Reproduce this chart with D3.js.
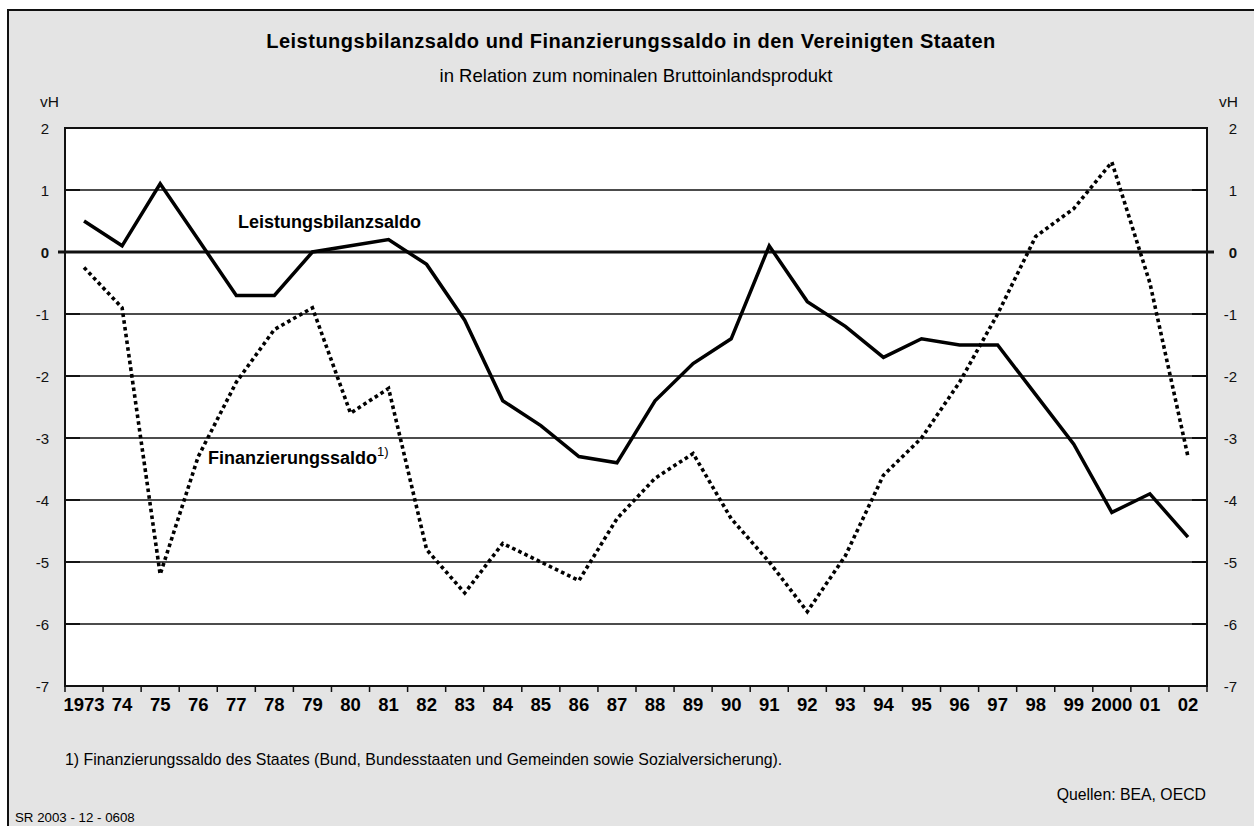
<!DOCTYPE html>
<html>
<head>
<meta charset="utf-8">
<script src="https://cdn.jsdelivr.net/npm/d3@7"></script>
<style>
  body { margin: 0; background: #fff; }
  svg { display: block; font-family: "Liberation Sans", Arial, Helvetica, sans-serif; }
</style>
</head>
<body>
<svg width="1254" height="826"></svg>
<script>
let years = d3.range(1973, 2003);
let yearLabels = ["1973", "74", "75", "76", "77", "78", "79", "80", "81", "82", "83", "84", "85", "86", "87",
  "88", "89", "90", "91", "92", "93", "94", "95", "96", "97", "98", "99", "2000", "01", "02"];
let leistung = [0.5, 0.1, 1.1, 0.2, -0.7, -0.7, 0.0, 0.1, 0.2, -0.2, -1.1, -2.4, -2.8, -3.3, -3.4,
  -2.4, -1.8, -1.4, 0.1, -0.8, -1.2, -1.7, -1.4, -1.5, -1.5, -2.3, -3.1, -4.2, -3.9, -4.6];
let finanz = [-0.25, -0.9, -5.2, -3.3, -2.1, -1.25, -0.9, -2.6, -2.2, -4.8, -5.5, -4.7, -5.0, -5.3, -4.3,
  -3.65, -3.25, -4.3, -5.0, -5.8, -4.9, -3.6, -3.0, -2.1, -1.0, 0.25, 0.7, 1.45, -0.5, -3.3];
let yTicks = d3.range(-7, 3);

let svg = d3.select("svg");
let pL = 65, pR = 1207, pT = 128, pB = 686;

// frame background
svg.append("rect").attr("x", 8).attr("y", 10).attr("width", 1260).attr("height", 830)
  .attr("fill", "#e4e4e4").attr("stroke", "#111").attr("stroke-width", 2);

let x = d3.scalePoint().domain(years).range([pL, pR]).padding(0.5);
let y = d3.scaleLinear().domain([-7, 2]).range([pB, pT]);
let step = x.step();

svg.append("rect").attr("x", pL).attr("y", pT).attr("width", pR - pL).attr("height", pB - pT)
  .attr("fill", "#fff");

// grid lines
svg.append("g").selectAll("line").data(yTicks.filter(d => d > -7 && d < 2 && d !== 0)).join("line")
  .attr("x1", pL).attr("x2", pR).attr("y1", d => y(d)).attr("y2", d => y(d))
  .attr("stroke", "#111").attr("stroke-width", 1.4);
// inner ticks
svg.append("g").selectAll("path").data(yTicks.filter(d => d > -7 && d < 2)).join("path")
  .attr("d", d => `M${pL},${y(d)}h15M${pR},${y(d)}h-15`)
  .attr("stroke", "#111").attr("stroke-width", 2.2);
// zero line
svg.append("line").attr("x1", pL - 7).attr("x2", pR + 7).attr("y1", y(0)).attr("y2", y(0))
  .attr("stroke", "#111").attr("stroke-width", 3);

// plot border
svg.append("rect").attr("x", pL).attr("y", pT).attr("width", pR - pL).attr("height", pB - pT)
  .attr("fill", "none").attr("stroke", "#111").attr("stroke-width", 2);

// x ticks on band edges
let edges = years.map(d => x(d) - step / 2).concat([pR]);
svg.append("g").selectAll("line").data(edges).join("line")
  .attr("x1", d => d).attr("x2", d => d).attr("y1", pB).attr("y2", pB + 6)
  .attr("stroke", "#111").attr("stroke-width", 1.5);

svg.append("g").selectAll("text").data(years).join("text")
  .attr("x", d => x(d)).attr("y", 711).attr("text-anchor", "middle")
  .attr("font-size", 18.5).attr("font-weight", "bold")
  .text((d, i) => yearLabels[i]);

// y labels both sides
let yl = svg.append("g").attr("font-size", 15).attr("fill", "#111");
yl.selectAll("text.l").data(yTicks).join("text").attr("class", "l")
  .attr("x", 49).attr("y", d => y(d) + 5.5).attr("text-anchor", "end")
  .attr("font-weight", d => d === 0 ? "bold" : "normal").text(d => d);
yl.selectAll("text.r").data(yTicks).join("text").attr("class", "r")
  .attr("x", 1237).attr("y", d => y(d) + 5.5).attr("text-anchor", "end")
  .attr("font-weight", d => d === 0 ? "bold" : "normal").text(d => d);
yl.append("text").attr("x", 40).attr("y", 107).attr("font-size", 15.5).text("vH");
yl.append("text").attr("x", 1238).attr("y", 107).attr("font-size", 15.5).attr("text-anchor", "end").text("vH");

// lines
let line = d3.line().x((d, i) => x(years[i])).y(d => y(d));
svg.append("path").datum(finanz).attr("d", line).attr("fill", "none")
  .attr("stroke", "#000").attr("stroke-width", 3.6).attr("stroke-dasharray", "3.6,3.2");
svg.append("path").datum(leistung).attr("d", line).attr("fill", "none")
  .attr("stroke", "#000").attr("stroke-width", 3.5).attr("stroke-linejoin", "miter");

// series labels
svg.append("text").attr("x", 238).attr("y", 228).attr("font-size", 18).attr("font-weight", "bold")
  .text("Leistungsbilanzsaldo");
let fl = svg.append("text").attr("x", 208).attr("y", 464).attr("font-size", 18).attr("font-weight", "bold");
fl.append("tspan").text("Finanzierungssaldo");
fl.append("tspan").attr("font-size", 13).attr("font-weight", "normal").attr("dy", -8).text("1)");

// titles
svg.append("text").attr("x", 631).attr("y", 48).attr("text-anchor", "middle")
  .attr("font-size", 20).attr("letter-spacing", 0.5).attr("font-weight", "bold")
  .text("Leistungsbilanzsaldo und Finanzierungssaldo in den Vereinigten Staaten");
svg.append("text").attr("x", 636).attr("y", 82).attr("text-anchor", "middle").attr("font-size", 18.5)
  .text("in Relation zum nominalen Bruttoinlandsprodukt");

// notes
svg.append("text").attr("x", 65).attr("y", 765).attr("font-size", 15.9)
  .text("1) Finanzierungssaldo des Staates (Bund, Bundesstaaten und Gemeinden sowie Sozialversicherung).");
svg.append("text").attr("x", 1206).attr("y", 800).attr("text-anchor", "end").attr("font-size", 15.8)
  .text("Quellen: BEA, OECD");
svg.append("text").attr("x", 15).attr("y", 822).attr("font-size", 13.3).text("SR 2003 - 12 - 0608");
</script>
</body>
</html>
